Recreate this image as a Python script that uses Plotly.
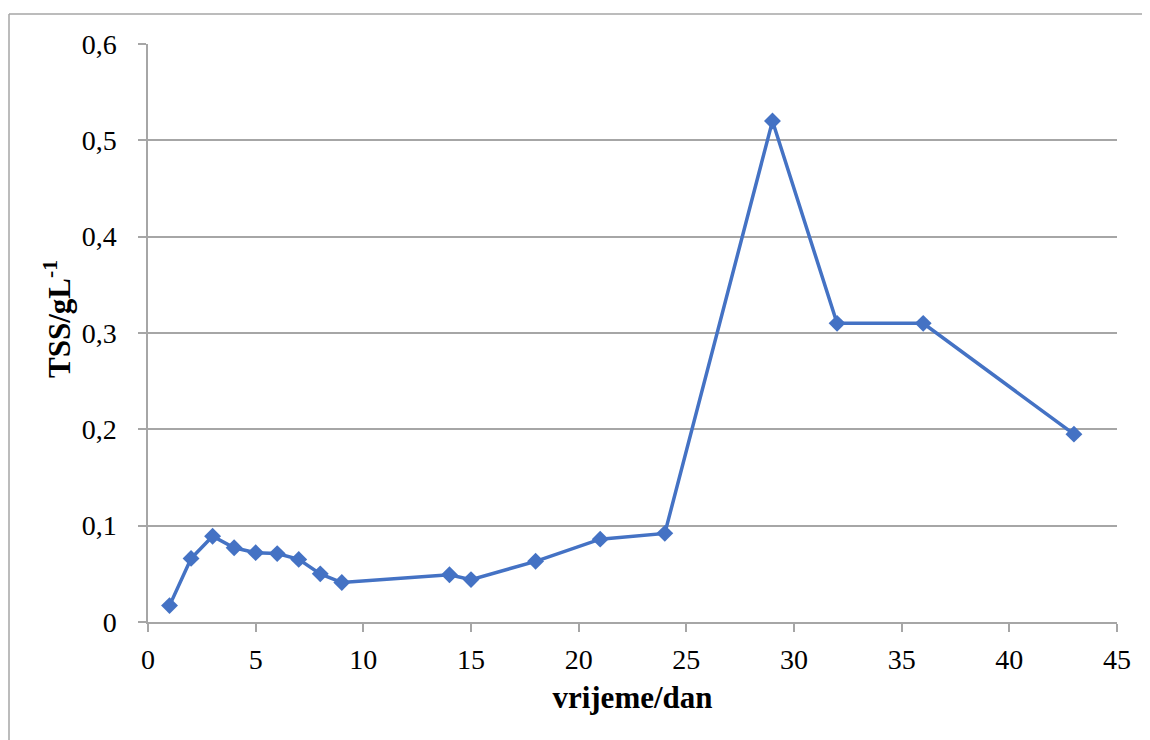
import plotly.graph_objects as go

days = [1, 2, 3, 4, 5, 6, 7, 8, 9, 14, 15, 18, 21, 24, 29, 32, 36, 43]
tss = [0.017, 0.066, 0.089, 0.077, 0.072, 0.071, 0.065, 0.050, 0.041,
       0.049, 0.044, 0.063, 0.086, 0.092, 0.520, 0.310, 0.310, 0.195]

x_ticks = [0, 5, 10, 15, 20, 25, 30, 35, 40, 45]
y_ticks = [0, 0.1, 0.2, 0.3, 0.4, 0.5, 0.6]
y_tick_text = ["0", "0,1", "0,2", "0,3", "0,4", "0,5", "0,6"]

# page body has an 8px margin, so compensate
OFF = 8
W, H = 1150, 740
ml, mt = 148 - OFF, 44 - OFF
pw, ph = 969, 578
mr, mb = W - ml - pw, H - mt - ph

def px(xp):
    return (xp - OFF - ml) / pw

def py(yp):
    return (mt + ph - (yp - OFF)) / ph

fig = go.Figure()
fig.add_trace(go.Scatter(
    x=days, y=tss, mode="lines+markers",
    line=dict(color="#4472C4", width=3.5),
    marker=dict(symbol="diamond", size=13, color="#4472C4"),
    cliponaxis=False, showlegend=False,
))

font_family = "Liberation Serif, Times New Roman, serif"
grey = "#A6A6A6"
fig.update_layout(
    width=W, height=H,
    margin=dict(l=ml, r=mr, t=mt, b=mb, autoexpand=False),
    paper_bgcolor="white", plot_bgcolor="white",
    separators=", ",
    font=dict(family=font_family, size=28, color="black"),
    xaxis=dict(
        range=[0, 45], tickvals=x_ticks, ticks="outside", ticklen=8,
        tickcolor=grey, tickwidth=1.5, showgrid=False, zeroline=False,
        showline=True, linecolor=grey, linewidth=1.5,
        tickfont=dict(size=28), ticklabelstandoff=4,
        title=dict(text="<b>vrijeme/dan</b>", font=dict(size=31), standoff=12),
    ),
    yaxis=dict(
        range=[0, 0.6], tickvals=y_ticks, ticktext=y_tick_text,
        ticks="outside", ticklen=8,
        tickcolor=grey, tickwidth=1.5, showgrid=True, gridcolor=grey,
        gridwidth=1.5, zeroline=False, showline=True, linecolor=grey,
        linewidth=1.5, tickfont=dict(size=28), ticklabelstandoff=16,
    ),
)

# y-axis title as annotation (to match its slightly raised position)
fig.add_annotation(
    text="<b>TSS/gL<sup>-1</sup></b>", xref="paper", yref="paper",
    x=px(57), y=py(319), textangle=-90, showarrow=False,
    xanchor="center", yanchor="middle", font=dict(size=31),
)

# outer chart border (partially cropped in the reference)
fig.add_shape(type="line", xref="paper", yref="paper",
              x0=px(9), x1=px(9), y0=py(14), y1=py(760),
              line=dict(color=grey, width=1.5))
fig.add_shape(type="line", xref="paper", yref="paper",
              x0=px(9), x1=px(1170), y0=py(14), y1=py(14),
              line=dict(color=grey, width=1.5))

fig.write_html("out.html")
